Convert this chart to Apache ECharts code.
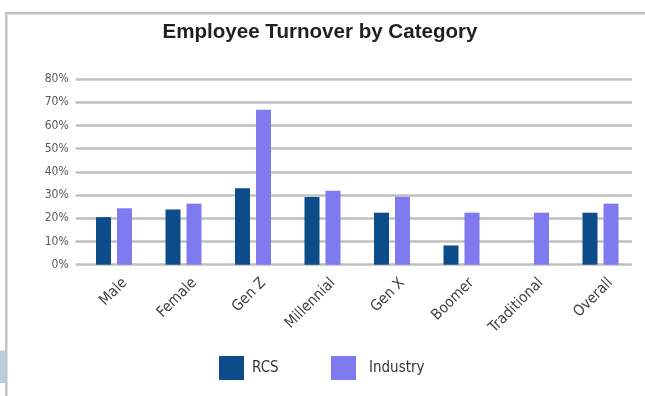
<!DOCTYPE html>
<html>
<head>
<meta charset="utf-8">
<script src="https://cdn.jsdelivr.net/npm/echarts@6/dist/echarts.min.js"></script>
<style>
html,body{margin:0;padding:0;background:#fff;}
#chart{width:645px;height:396px;}
</style>
</head>
<body>
<div id="chart"></div>
<script>
const categories = ['Male', 'Female', 'Gen Z', 'Millennial', 'Gen X', 'Boomer', 'Traditional', 'Overall'];
const rcsValues = [20.5, 23.8, 32.9, 29.2, 22.4, 8.3, null, 22.4];
const industryValues = [24.3, 26.3, 66.8, 31.9, 29.3, 22.4, 22.4, 26.3];
const yTicks = [0, 10, 20, 30, 40, 50, 60, 70, 80];
const titleText = 'Employee Turnover by Category';

const FONT = "'DejaVu Sans Condensed', 'Liberation Sans Narrow', 'Liberation Sans', sans-serif";
const TITLE_FONT = "bold 21px 'Liberation Sans', Arial, sans-serif";

const mc = document.createElement('canvas').getContext('2d');
mc.font = TITLE_FONT;
const titleScale = 315 / mc.measureText(titleText).width;

const chart = echarts.init(document.getElementById('chart'), null, {renderer: 'canvas'});

chart.setOption({
  animation: false,
  backgroundColor: '#ffffff',
  graphic: [
    {type: 'rect', shape: {x: 5, y: 12, width: 640, height: 2.5}, style: {fill: '#c4c4c4'}, silent: true},
    {type: 'rect', shape: {x: 5, y: 12, width: 2.5, height: 384}, style: {fill: '#c4c4c4'}, silent: true},
    {type: 'rect', shape: {x: 0, y: 350.5, width: 5, height: 32.5}, style: {fill: '#b9cde0'}, silent: true},
    {type: 'text', x: 320, y: 32.5, scaleX: titleScale, scaleY: 1, silent: true,
     style: {text: titleText, font: TITLE_FONT, fill: '#231f20', align: 'center', verticalAlign: 'middle'}}
  ],
  legend: [
    {left: 219, top: 356, padding: 0, itemWidth: 25, itemHeight: 24, icon: 'rect',
     textStyle: {fontFamily: FONT, fontSize: 15, color: '#333333', padding: [0, 0, 0, 3]},
     data: ['RCS']},
    {left: 331, top: 356, padding: 0, itemWidth: 25, itemHeight: 24, icon: 'rect',
     textStyle: {fontFamily: FONT, fontSize: 15, color: '#333333', padding: [0, 0, 0, 8]},
     data: ['Industry']}
  ],
  grid: [
    {left: 75.7, right: 13, top: 79, bottom: 131.3},
    {left: 79.25, width: 556, top: 79, bottom: 131.3},
    {left: 90.25, width: 556, top: 79, bottom: 131.3}
  ],
  xAxis: [
    {gridIndex: 0, type: 'category', data: categories, show: false},
    {gridIndex: 1, type: 'category', data: categories, show: false},
    {gridIndex: 2, type: 'category', data: categories,
     axisLine: {show: false}, axisTick: {show: false},
     axisLabel: {rotate: 45, margin: 16, fontFamily: FONT, fontSize: 15, color: '#404040', interval: 0}}
  ],
  yAxis: [
    {gridIndex: 0, type: 'value', min: 0, max: 80, interval: 10,
     axisLine: {show: false}, axisTick: {show: false},
     axisLabel: {margin: 7, fontFamily: FONT, fontSize: 12, color: '#595959',
       formatter: v => yTicks.includes(v) ? v + '%' : ''},
     splitLine: {lineStyle: {color: '#bfbfbf', width: 2.5}}},
    {gridIndex: 1, type: 'value', min: 0, max: 80, interval: 10, show: false, splitLine: {show: false}},
    {gridIndex: 2, type: 'value', min: 0, max: 80, interval: 10, show: false, splitLine: {show: false}}
  ],
  series: [
    {name: 'RCS', type: 'bar', xAxisIndex: 1, yAxisIndex: 1, data: rcsValues,
     barWidth: 15, barGap: '40%', itemStyle: {color: '#0d4c8b'}},
    {name: 'Industry', type: 'bar', xAxisIndex: 1, yAxisIndex: 1, data: industryValues,
     barWidth: 15, barGap: '40%', itemStyle: {color: '#7f7af0'}}
  ]
});
</script>
</body>
</html>
